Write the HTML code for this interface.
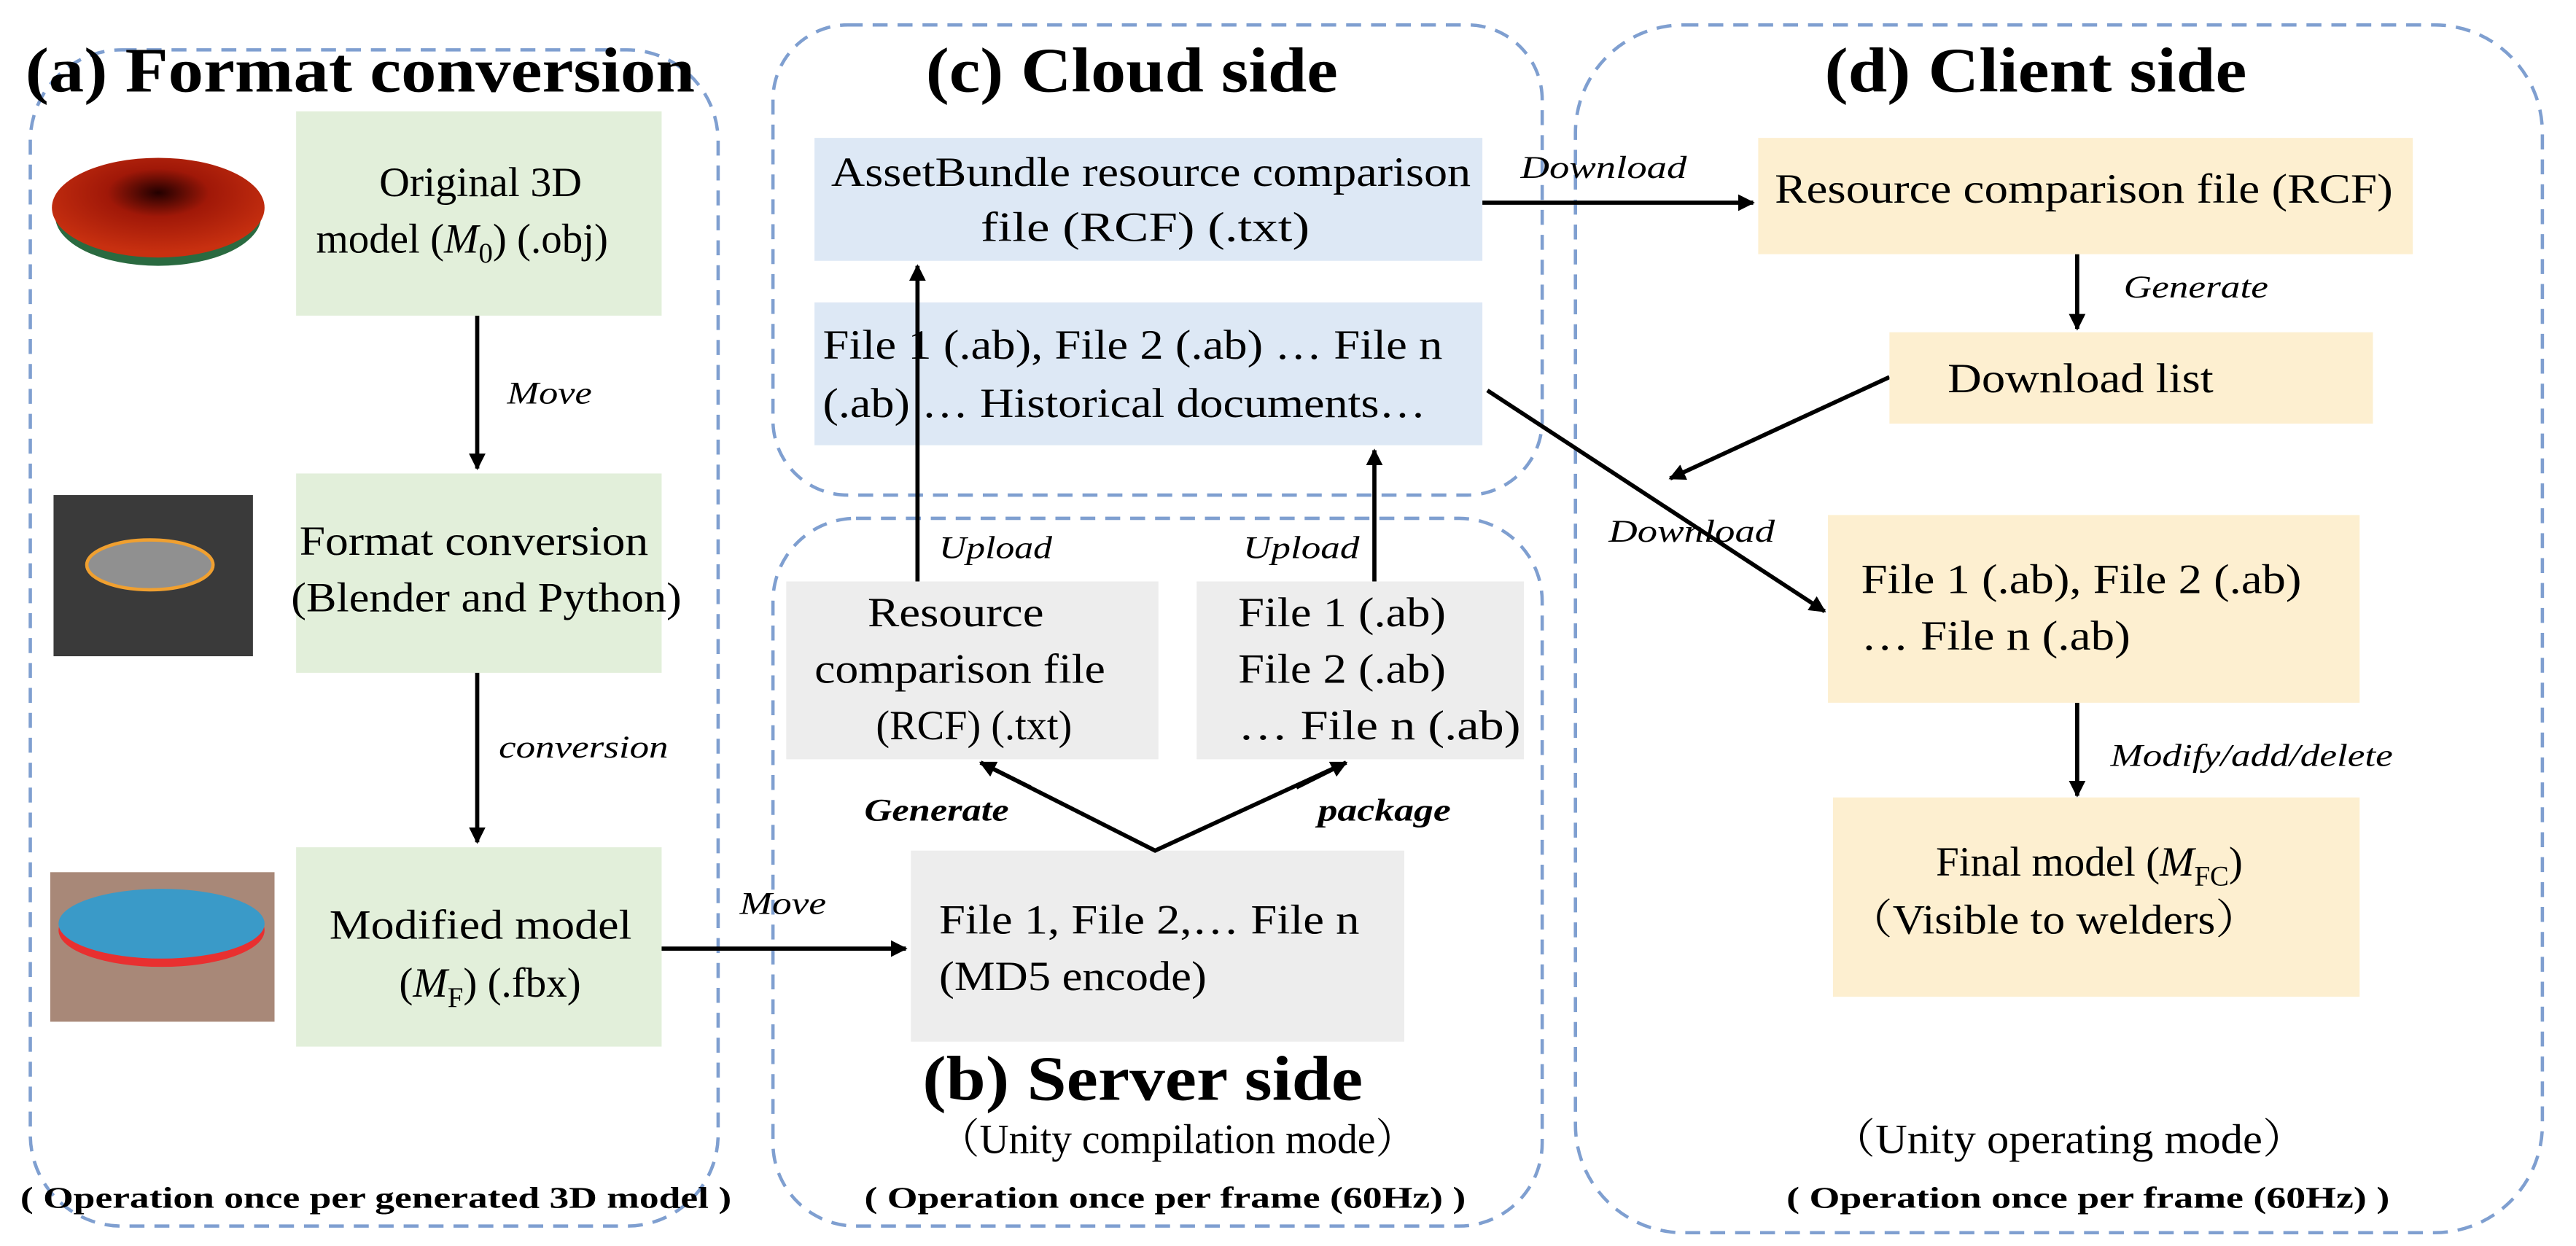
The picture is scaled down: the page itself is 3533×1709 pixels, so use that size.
<!DOCTYPE html>
<html><head><meta charset="utf-8"><style>
html,body{margin:0;padding:0;background:#fff;}
svg{display:block;}
text{font-family:"Liberation Serif","Noto Serif CJK SC",serif;fill:#000;}
.t{font-size:25px;}
.i{font-size:19px;font-style:italic;}
.h{font-size:38px;font-weight:bold;}
.b{font-size:18px;font-weight:bold;}
</style></head><body>
<svg width="3533" height="1709" viewBox="0 0 1550 750" xmlns="http://www.w3.org/2000/svg">
<defs>
<marker id="m" viewBox="0 0 10 10" refX="9" refY="5" markerWidth="10" markerHeight="10" orient="auto" markerUnits="userSpaceOnUse"><path d="M0,0L10,5L0,10z" fill="#000"/></marker>
<radialGradient id="rg" cx="0.5" cy="0.35" r="0.6"><stop offset="0" stop-color="#200"/><stop offset="0.4" stop-color="#a01808"/><stop offset="1" stop-color="#c83010"/></radialGradient>
</defs>
<g fill="none" stroke="#7f9fd0" stroke-width="2" stroke-dasharray="9,6">
<rect x="18" y="30" width="414" height="708" rx="55"/>
<rect x="465" y="15" width="463" height="283" rx="45"/>
<rect x="465" y="312" width="463" height="426" rx="50"/>
<rect x="948" y="15" width="582" height="727" rx="65"/>
</g>
<g lengthAdjust="spacingAndGlyphs">
<text class="h" x="15" y="55" textLength="403" lengthAdjust="spacingAndGlyphs">(a) Format conversion</text>
<text class="h" x="557" y="55" textLength="248" lengthAdjust="spacingAndGlyphs">(c) Cloud side</text>
<text class="h" x="1098" y="55" textLength="254" lengthAdjust="spacingAndGlyphs">(d) Client side</text>
<text class="h" x="555" y="662" textLength="265" lengthAdjust="spacingAndGlyphs">(b) Server side</text>
</g>

<!-- images -->
<ellipse cx="95" cy="130" rx="62" ry="30" fill="#2a6a40"/>
<ellipse cx="95" cy="125" rx="64" ry="30" fill="url(#rg)"/>
<rect x="32" y="298" width="120" height="97" fill="#3a3a3a"/>
<ellipse cx="90" cy="340" rx="38" ry="15" fill="#909090" stroke="#f0a030" stroke-width="2"/>
<rect x="30" y="525" width="135" height="90" fill="#a88878"/>
<ellipse cx="97" cy="560" rx="62" ry="22" fill="#e83030"/>
<ellipse cx="97" cy="556" rx="62" ry="21" fill="#3a9ac8"/>

<!-- green -->
<g fill="#e2efda"><rect x="178" y="67" width="220" height="123"/><rect x="178" y="285" width="220" height="120"/><rect x="178" y="510" width="220" height="120"/></g>
<text class="t" x="228" y="118" textLength="122" lengthAdjust="spacingAndGlyphs">Original 3D</text>
<text class="t" x="190" y="152">model (<tspan font-style="italic">M</tspan><tspan font-size="17" dy="6">0</tspan><tspan dy="-6">) (.obj)</tspan></text>
<text class="t" x="180" y="334" textLength="210" lengthAdjust="spacingAndGlyphs">Format conversion</text>
<text class="t" x="175" y="368" textLength="235" lengthAdjust="spacingAndGlyphs">(Blender and Python)</text>
<text class="t" x="198" y="565" textLength="182" lengthAdjust="spacingAndGlyphs">Modified model</text>
<text class="t" x="240" y="600">(<tspan font-style="italic">M</tspan><tspan font-size="17" dy="6">F</tspan><tspan dy="-6">) (.fbx)</tspan></text>
<g stroke="#000" stroke-width="2.5" fill="none">
<line x1="287" y1="190" x2="287" y2="282" marker-end="url(#m)"/>
<line x1="287" y1="405" x2="287" y2="507" marker-end="url(#m)"/>
<line x1="398" y1="571" x2="545" y2="571" marker-end="url(#m)"/>
</g>
<text class="i" x="305" y="243" textLength="51" lengthAdjust="spacingAndGlyphs">Move</text>
<text class="i" x="300" y="456" textLength="102" lengthAdjust="spacingAndGlyphs">conversion</text>
<text class="i" x="445" y="550" textLength="52" lengthAdjust="spacingAndGlyphs">Move</text>

<!-- blue -->
<g fill="#dde8f5"><rect x="490" y="83" width="402" height="74"/><rect x="490" y="182" width="402" height="86"/></g>
<text class="t" x="500" y="112" textLength="385" lengthAdjust="spacingAndGlyphs">AssetBundle resource comparison</text>
<text class="t" x="590" y="145" textLength="198" lengthAdjust="spacingAndGlyphs">file  (RCF)  (.txt)</text>
<text class="t" x="495" y="216" textLength="373" lengthAdjust="spacingAndGlyphs">File 1 (.ab), File 2 (.ab) … File n</text>
<text class="t" x="495" y="251" textLength="363" lengthAdjust="spacingAndGlyphs">(.ab) … Historical documents…</text>

<!-- gray -->
<g fill="#ededed"><rect x="473" y="350" width="224" height="107"/><rect x="720" y="350" width="197" height="107"/><rect x="548" y="512" width="297" height="115"/></g>
<text class="t" x="522" y="377" textLength="106" lengthAdjust="spacingAndGlyphs">Resource</text>
<text class="t" x="490" y="411" textLength="175" lengthAdjust="spacingAndGlyphs">comparison file</text>
<text class="t" x="527" y="445" textLength="118" lengthAdjust="spacingAndGlyphs">(RCF)  (.txt)</text>
<text class="t" x="745" y="377" textLength="125" lengthAdjust="spacingAndGlyphs">File 1 (.ab)</text>
<text class="t" x="745" y="411" textLength="125" lengthAdjust="spacingAndGlyphs">File 2 (.ab)</text>
<text class="t" x="745" y="445" textLength="170" lengthAdjust="spacingAndGlyphs">… File n (.ab)</text>
<text class="t" x="565" y="562" textLength="253" lengthAdjust="spacingAndGlyphs">File 1, File 2,… File n</text>
<text class="t" x="565" y="596" textLength="161" lengthAdjust="spacingAndGlyphs">(MD5 encode)</text>
<g stroke="#000" stroke-width="2.5" fill="none">
<line x1="552" y1="350" x2="552" y2="160" marker-end="url(#m)"/>
<line x1="827" y1="350" x2="827" y2="271" marker-end="url(#m)"/>
<polyline points="590,459 695,512 810,459" />
<line x1="620" y1="474" x2="590" y2="459" marker-end="url(#m)"/>
<line x1="780" y1="474" x2="810" y2="459" marker-end="url(#m)"/>
<line x1="892" y1="122" x2="1055" y2="122" marker-end="url(#m)"/>
<line x1="1250" y1="153" x2="1250" y2="198" marker-end="url(#m)"/>
<line x1="1137" y1="227" x2="1005" y2="288" marker-end="url(#m)"/>
<line x1="895" y1="235" x2="1098" y2="368" marker-end="url(#m)"/>
<line x1="1250" y1="423" x2="1250" y2="479" marker-end="url(#m)"/>
</g>
<text class="i" x="565" y="336" textLength="68" lengthAdjust="spacingAndGlyphs">Upload</text>
<text class="i" x="748" y="336" textLength="70" lengthAdjust="spacingAndGlyphs">Upload</text>
<text class="i" x="520" y="494" font-weight="bold" textLength="87" lengthAdjust="spacingAndGlyphs">Generate</text>
<text class="i" x="793" y="494" font-weight="bold" textLength="80" lengthAdjust="spacingAndGlyphs">package</text>
<text class="i" x="915" y="107" textLength="100" lengthAdjust="spacingAndGlyphs">Download</text>
<text class="i" x="968" y="326" textLength="100" lengthAdjust="spacingAndGlyphs">Download</text>
<text class="i" x="1278" y="179" textLength="87" lengthAdjust="spacingAndGlyphs">Generate</text>
<text class="i" x="1270" y="461" textLength="170" lengthAdjust="spacingAndGlyphs">Modify/add/delete</text>

<!-- yellow -->
<g fill="#fdefd0"><rect x="1058" y="83" width="394" height="70"/><rect x="1137" y="200" width="291" height="55"/><rect x="1100" y="310" width="320" height="113"/><rect x="1103" y="480" width="317" height="120"/></g>
<text class="t" x="1068" y="122" textLength="372" lengthAdjust="spacingAndGlyphs">Resource comparison file  (RCF)</text>
<text class="t" x="1172" y="236" textLength="160" lengthAdjust="spacingAndGlyphs">Download list</text>
<text class="t" x="1120" y="357" textLength="265" lengthAdjust="spacingAndGlyphs">File 1 (.ab), File 2 (.ab)</text>
<text class="t" x="1120" y="391" textLength="162" lengthAdjust="spacingAndGlyphs">… File n (.ab)</text>
<text class="t" x="1165" y="527">Final model (<tspan font-style="italic">M</tspan><tspan font-size="17" dy="6">FC</tspan><tspan dy="-6">)</tspan></text>
<text class="t" x="1112" y="562" textLength="248" lengthAdjust="spacingAndGlyphs">（Visible to welders）</text>

<text class="t" x="565" y="694" textLength="287" lengthAdjust="spacingAndGlyphs">（Unity compilation mode）</text>
<text class="t" x="1102" y="694" textLength="286" lengthAdjust="spacingAndGlyphs">（Unity operating mode）</text>
<text class="b" x="12" y="727" textLength="428" lengthAdjust="spacingAndGlyphs">( Operation once per generated 3D model )</text>
<text class="b" x="520" y="727" textLength="362" lengthAdjust="spacingAndGlyphs">( Operation once per frame (60Hz) )</text>
<text class="b" x="1075" y="727" textLength="363" lengthAdjust="spacingAndGlyphs">( Operation once per frame (60Hz) )</text>
</svg>
</body></html>
